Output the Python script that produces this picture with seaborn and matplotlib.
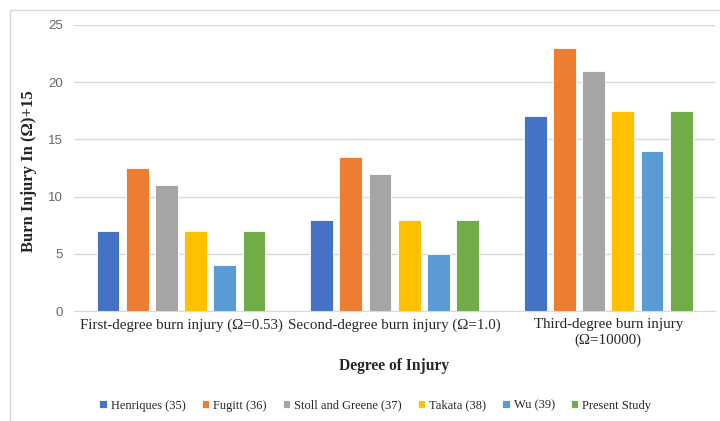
import pandas as pd
import matplotlib.pyplot as plt
import seaborn as sns
from matplotlib.patches import Rectangle

# ----------------------------------------
# Data
# ----------------------------------------

categories = [
    "First-degree burn injury (\u03a9=0.53)",
    "Second-degree burn injury (\u03a9=1.0)",
    "Third-degree burn injury\n(\u03a9=10000)",
]
studies = ["Henriques (35)", "Fugitt (36)", "Stoll and Greene (37)",
           "Takata (38)", "Wu (39)", "Present Study"]

henriques = [7, 8, 17]
fugitt = [12.5, 13.5, 23]
stoll_greene = [11, 12, 21]
takata = [7, 8, 17.5]
wu = [4, 5, 14]
present = [7, 8, 17.5]

colors = ["#4472C4", "#ED7D31", "#A5A5A5", "#FFC000", "#5B9BD5", "#70AD47"]

rows = []
for name, vals in zip(studies, [henriques, fugitt, stoll_greene, takata, wu, present]):
    for cat, v in zip(categories, vals):
        rows.append({"Degree": cat, "Study": name, "Value": v})
df = pd.DataFrame(rows)

# ----------------------------------------
# Plot
# ----------------------------------------

sns.set_style("white")
plt.rcParams["font.family"] = ["Liberation Serif", "DejaVu Serif"]

fig = plt.figure(figsize=(7.2, 4.21), dpi=100)
ax = fig.add_axes([0.103, 0.261, 0.89, 0.68])

# outer frame like the exported chart area
fig.patches.append(Rectangle((10 / 720, -0.05), 1.0, 1 - 10 / 421 + 0.05,
                             transform=fig.transFigure, fill=False,
                             edgecolor="#d9d9d9", linewidth=1.0))

sns.barplot(data=df, x="Degree", y="Value", hue="Study", palette=colors,
            saturation=1, width=0.82, gap=0.22, edgecolor="white",
            linewidth=0.6, ax=ax, legend=True)

ax.set_ylim(0, 25)
ax.set_yticks([0, 5, 10, 15, 20, 25])
ax.yaxis.grid(True, color="#d9d9d9", linewidth=1.0)
ax.set_axisbelow(True)
for s in ["top", "right", "left"]:
    ax.spines[s].set_visible(False)
ax.spines["bottom"].set_color("#d9d9d9")
ax.tick_params(axis="both", length=0)
ax.tick_params(axis="y", labelsize=9.5, labelcolor="#666666", pad=8)
for lab in ax.get_yticklabels():
    lab.set_family(["Liberation Sans", "DejaVu Sans"])
ax.tick_params(axis="x", labelsize=10.8, labelcolor="#262626", pad=5)

ax.set_xlabel("Degree of Injury", fontsize=11.2, fontweight="bold", labelpad=8)
ax.set_ylabel("Burn Injury In (\u03a9)+15", fontsize=12, fontweight="bold")
ax.yaxis.set_label_coords(-0.058, 0.49)

ax.legend(loc="upper center", bbox_to_anchor=(0.47, -0.27), ncol=6,
          frameon=False, fontsize=9, handlelength=0.6, handleheight=0.6,
          handletextpad=0.3, columnspacing=1.3)

plt.savefig("out.png", dpi=100)
